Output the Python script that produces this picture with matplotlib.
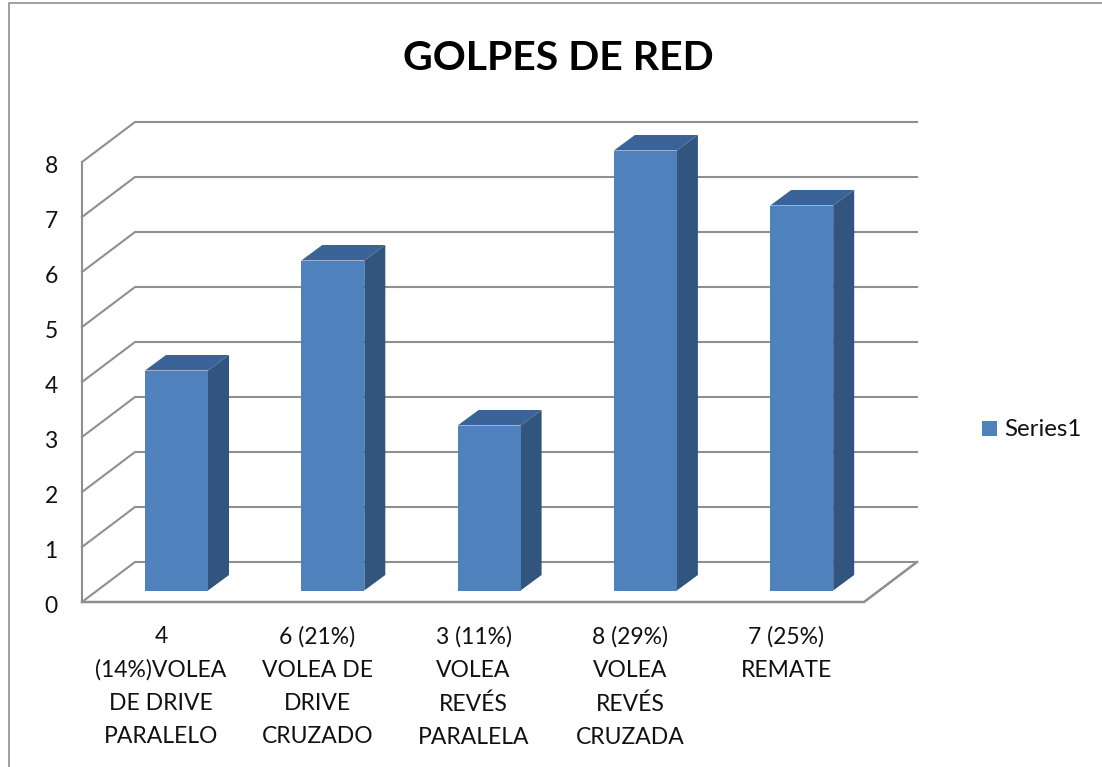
import matplotlib
matplotlib.use("Agg")
import matplotlib.pyplot as plt
from matplotlib.patches import Polygon, Rectangle

categorias = ["4\n(14%)VOLEA\nDE DRIVE\nPARALELO", "6 (21%)\nVOLEA DE\nDRIVE\nCRUZADO",
              "3 (11%)\nVOLEA\nREVÉS\nPARALELA", "8 (29%)\nVOLEA\nREVÉS\nCRUZADA",
              "7 (25%)\nREMATE"]
valores = [4, 6, 3, 8, 7]
ticks = [0, 1, 2, 3, 4, 5, 6, 7, 8]

plt.rcParams['font.family'] = ['Lato', 'DejaVu Sans']

fig = plt.figure(figsize=(11.02, 7.67), dpi=100)
ax = fig.add_axes([0, 0, 1, 1])
ax.set_xlim(0, 1102)
ax.set_ylim(767, 0)
ax.axis("off")

# marco exterior
ax.plot([8.5, 8.5, 1102], [767, 3, 3], color="#8f8f8f", lw=1.2)

# escala del grafico en pixeles
y0 = 602
paso = 55
dx, dy = 53, -40
x0 = 82
x1 = 864
gris = "#8f8f8f"


def y_val(v):
    return y0 - v * paso


# rejilla y paredes
for t in ticks:
    y = y_val(t)
    ax.plot([x0, x0 + dx, x1 + dx], [y, y + dy, y + dy], color=gris, lw=1.5, zorder=1)
    ax.text(51, y + 4.5, str(t), fontsize=16.5, ha="center", va="center", color="#111111")
ax.plot([x0, x0], [y_val(0), y_val(8)], color=gris, lw=1.5, zorder=1)
ax.plot([x0, x1, x1 + dx], [y0, y0, y0 + dy], color=gris, lw=1.8, zorder=1)

# barras 3d
ancho = 63
fondo_x, fondo_y = 21, -15.5
base_y = 590.5
paso_x = 156.3
for i, v in enumerate(valores):
    x = 145 + i * paso_x
    arriba = base_y - v * paso
    ax.add_patch(Polygon([(x + ancho, base_y), (x + ancho + fondo_x, base_y + fondo_y),
                          (x + ancho + fondo_x, arriba + fondo_y), (x + ancho, arriba)],
                         closed=True, fc="#31557f", ec="none", zorder=3))
    ax.add_patch(Polygon([(x, arriba), (x + fondo_x, arriba + fondo_y),
                          (x + ancho + fondo_x, arriba + fondo_y), (x + ancho, arriba)],
                         closed=True, fc="#3a6398", ec="none", zorder=3))
    ax.add_patch(Rectangle((x, arriba), ancho, base_y - arriba, fc="#4f81bd", ec="none", zorder=4))
    ax.text(161 + i * paso_x, 626, categorias[i], fontsize=16.5, ha="center",
            va="top", linespacing=1.71, color="#111111")

ax.text(558, 59, "GOLPES DE RED", fontsize=29.5, fontweight="bold", ha="center", va="center", color="black")

# leyenda
ax.add_patch(Rectangle((982, 421), 15, 15, fc="#4f81bd", ec="none"))
ax.text(1004, 430, "Series1", fontsize=17.3, ha="left", va="center", color="#111111")

fig.savefig("out.png", dpi=100)
